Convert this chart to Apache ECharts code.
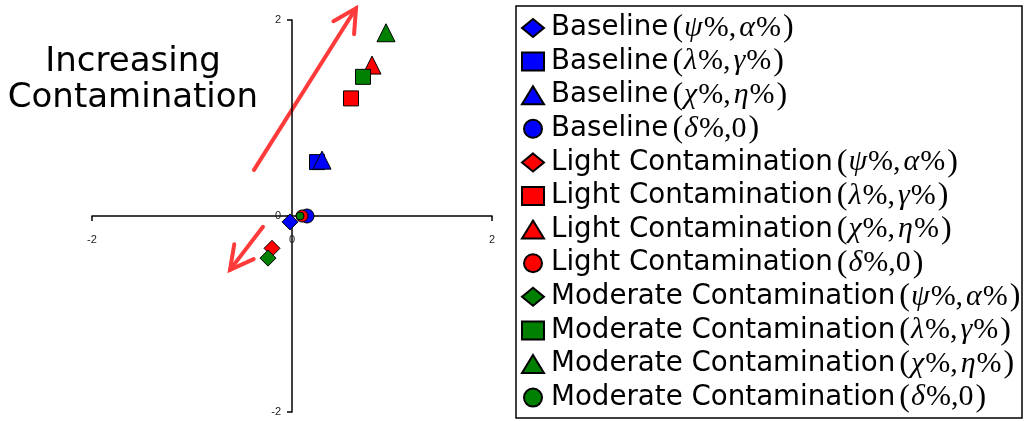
<!DOCTYPE html>
<html>
<head>
<meta charset="utf-8">
<script src="https://cdn.jsdelivr.net/npm/echarts@6/dist/echarts.min.js"></script>
<style>
  html, body { margin: 0; padding: 0; background: #fff; }
  #chart { width: 1028px; height: 421px; }
</style>
</head>
<body>
<div id="chart"></div>
<script>
// groups and the four measures (greek pairs) shown in the legend
var groups = ['Baseline', 'Light Contamination', 'Moderate Contamination']
var groupColors = ['#0000ff', '#ff0000', '#008000']
var measures = [['ψ', 'α'], ['λ', 'γ'], ['χ', 'η'], ['δ', '0']]
var measureSymbols = ['diamond', 'rect', 'triangle', 'circle']

// [x, y] for each measure, one array per group
var baselineData = [[-0.02, -0.06], [0.25, 0.55], [0.30, 0.57], [0.15, 0.00]]
var lightData = [[-0.20, -0.33], [0.59, 1.20], [0.80, 1.54], [0.10, 0.00]]
var moderateData = [[-0.24, -0.43], [0.71, 1.42], [0.94, 1.87], [0.08, 0.00]]
var groupData = [baselineData, lightData, moderateData]

// axis range / ticks
var axisMin = -2
var axisMax = 2
var axisStep = 2

// arrows in data units: [from, to]
var upArrow = [[-0.38, 0.47], [0.64, 2.12]]
var downArrow = [[-0.29, -0.11], [-0.62, -0.55]]

var symbolSizes = {
  diamond: 16,
  rect: 15,
  triangle: 18,
  circle: [14, 12, 8]
}

function seriesName (g, m) {
  var pair = measures[m]
  var inner = pair[1] === '0' ? pair[0] + '%,0' : pair[0] + '%,' + pair[1] + '%'
  return groups[g] + ' (' + inner + ')'
}

var series = []
var legendNames = []
var nameParts = {}
groups.forEach(function (grp, g) {
  measures.forEach(function (pair, m) {
    var name = seriesName(g, m)
    var sym = measureSymbols[m]
    var size = sym === 'circle' ? symbolSizes.circle[g] : symbolSizes[sym]
    legendNames.push(name)
    nameParts[name] = { group: grp, a: pair[0], b: pair[1] }
    series.push({
      name: name,
      type: 'scatter',
      symbol: sym,
      symbolSize: size,
      itemStyle: {
        color: groupColors[g],
        borderColor: '#000',
        borderWidth: 1,
        opacity: 1
      },
      emphasis: { disabled: true },
      data: [groupData[g][m]]
    })
  })
})

var chart = echarts.init(document.getElementById('chart'))

// grid: -2..2 on x spans 92..492, on y spans 20..412
var gridLeft = 92
var gridTop = 20
var gridW = 400
var gridH = 392

var axisCommon = {
  type: 'value',
  min: axisMin,
  max: axisMax,
  interval: axisStep,
  axisLine: { onZero: false, lineStyle: { color: '#000', width: 1.5 } },
  axisTick: { show: true, length: 5, lineStyle: { color: '#000', width: 1.5 } },
  splitLine: { show: false },
  axisLabel: { color: '#222', fontSize: 11, fontFamily: 'Liberation Sans, Arial' }
}

var option = {
  backgroundColor: '#fff',
  animation: false,
  grid: {
    left: gridLeft,
    top: gridTop,
    width: gridW,
    height: gridH,
    containLabel: false,
    outerBoundsMode: 'none'
  },
  xAxis: Object.assign({}, axisCommon, {
    position: 'bottom',
    offset: -gridH / 2,
    axisLabel: Object.assign({}, axisCommon.axisLabel, { margin: 18 })
  }),
  yAxis: Object.assign({}, axisCommon, {
    position: 'left',
    offset: -gridW / 2,
    axisLabel: Object.assign({}, axisCommon.axisLabel, { margin: 11 })
  }),
  legend: {
    orient: 'vertical',
    left: 521,
    top: 12,
    height: 409,
    padding: 0,
    itemWidth: 22,
    itemHeight: 18,
    itemGap: 1.6,
    selectedMode: false,
    data: legendNames,
    formatter: function (name) {
      var p = nameParts[name]
      var inner = p.b === '0'
        ? '{g|' + p.a + '}{u|%,0}'
        : '{g|' + p.a + '}{u|%,}{g|' + p.b + '}{u|%}'
      return '{t|' + p.group + '}{p|(}' + inner + '{p|)}'
    },
    textStyle: {
      color: '#000',
      rich: {
        t: { fontFamily: 'DejaVu Sans', fontSize: 27.7, lineHeight: 30, color: '#000', padding: [0, 4, 0, 2] },
        p: { fontFamily: 'Liberation Serif', fontSize: 32, lineHeight: 30, color: '#000' },
        g: { fontFamily: 'Liberation Serif', fontStyle: 'italic', fontSize: 30, lineHeight: 30, color: '#000', padding: [0, 1, 0, 1] },
        u: { fontFamily: 'Liberation Serif', fontSize: 30, lineHeight: 30, color: '#000', padding: [0, 2, 0, 0] }
      }
    }
  },
  series: series
}

chart.setOption(option)

function arrowShapes (seg) {
  var a = chart.convertToPixel({ gridIndex: 0 }, seg[0])
  var b = chart.convertToPixel({ gridIndex: 0 }, seg[1])
  var ang = Math.atan2(a[1] - b[1], a[0] - b[0])
  var len = 26
  var spread = 28 * Math.PI / 180
  var h1 = [b[0] + len * Math.cos(ang + spread), b[1] + len * Math.sin(ang + spread)]
  var h2 = [b[0] + len * Math.cos(ang - spread), b[1] + len * Math.sin(ang - spread)]
  var style = { stroke: '#ff3a3a', lineWidth: 4, lineCap: 'round', lineJoin: 'miter', fill: null }
  return [
    { type: 'line', shape: { x1: a[0], y1: a[1], x2: b[0], y2: b[1] }, style: style, silent: true },
    { type: 'polyline', shape: { points: [h1, b, h2] }, style: style, silent: true }
  ]
}

chart.setOption({
  graphic: [
    {
      type: 'rect',
      shape: { x: 516, y: 6, width: 506, height: 412 },
      style: { fill: null, stroke: '#000', lineWidth: 1.5 },
      silent: true
    },
    {
      type: 'text',
      x: 133,
      y: 80,
      style: {
        text: 'Increasing\nContamination',
        fontFamily: 'DejaVu Sans',
        fontSize: 34,
        lineHeight: 36,
        fill: '#000',
        align: 'center',
        verticalAlign: 'middle'
      },
      silent: true
    }
  ].concat(arrowShapes(upArrow), arrowShapes(downArrow))
})
</script>
</body>
</html>
